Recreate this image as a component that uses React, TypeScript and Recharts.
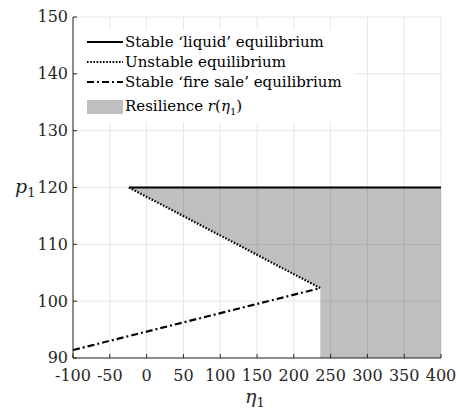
import { ComposedChart, Line, Area, XAxis, YAxis, CartesianGrid, Label } from 'recharts'

// axis ticks
const etaTicks = [-100, -50, 0, 50, 100, 150, 200, 250, 300, 350, 400]
const pTicks = [90, 100, 110, 120, 130, 140, 150]

// equilibria
const liquidEta = [-24, 400]
const liquidP = [120, 120]
const unstableEta = [-24, 236]
const unstableP = [120, 102.3]
const fireSaleEta = [-100, 236]
const fireSaleP = [91.4, 102.3]

// resilience region: band between the lower boundary and the liquid price
const resilienceEta = [-24, 236, 236, 400]
const resilienceLow = [120, 102.3, 90, 90]
const resilienceHigh = [120, 120, 120, 120]

const legendLabels = [
  'Stable \u2018liquid\u2019 equilibrium',
  'Unstable equilibrium',
  'Stable \u2018fire sale\u2019 equilibrium',
  'Resilience ',
]

const toPoints = (xs: number[], ys: number[]) => xs.map((eta, i) => ({ eta, p: ys[i] }))

const liquidData = toPoints(liquidEta, liquidP)
const unstableData = toPoints(unstableEta, unstableP)
const fireSaleData = toPoints(fireSaleEta, fireSaleP)
const resilienceData = resilienceEta.map((eta, i) => ({
  eta,
  range: [resilienceLow[i], resilienceHigh[i]],
}))

const FONT = 'DejaVu Serif'
const INK = '#262626'
const DOTTED = '1.6 1.6'
const DASHDOT = '7 3 2 3'

const YTick = (props: any) => {
  const { x, y, payload } = props
  return (
    <g>
      <line x1={x + 5} x2={x + 9} y1={y} y2={y} stroke={INK} />
      <text x={x} y={y} dy="0.34em" textAnchor="end" fontFamily={FONT} fontSize={16} fill={INK}>
        {payload.value}
      </text>
    </g>
  )
}

const XTick = (props: any) => {
  const { x, y, payload } = props
  return (
    <g>
      <line x1={x} x2={x} y1={y - 11} y2={y - 15} stroke={INK} />
      <text x={x} y={y} dy="0.72em" textAnchor="middle" fontFamily={FONT} fontSize={16} fill={INK}>
        {payload.value}
      </text>
    </g>
  )
}

const SampleLine = ({ dash }: { dash?: string }) => (
  <svg width={36} height={8} style={{ display: 'block' }}>
    <line x1={0} x2={36} y1={4} y2={4} stroke="#000" strokeWidth={2.2} strokeDasharray={dash} />
  </svg>
)

function ChartLegend() {
  const rowTops = [2, 22, 42, 67]
  const samples = [
    <SampleLine key="a" />,
    <SampleLine key="b" dash={DOTTED} />,
    <SampleLine key="c" dash={DASHDOT} />,
    <div key="d" style={{ width: 36, height: 14, background: '#bfbfbf' }} />,
  ]
  return (
    <div
      style={{
        position: 'absolute',
        left: 80,
        top: 30,
        width: 274,
        height: 92,
        background: '#fff',
        fontFamily: FONT,
        fontSize: 15,
        color: '#000',
      }}
    >
      {legendLabels.map((label, i) => (
        <div
          key={label}
          style={{
            position: 'absolute',
            left: 7,
            top: rowTops[i],
            height: 20,
            display: 'flex',
            alignItems: 'center',
            whiteSpace: 'nowrap',
          }}
        >
          {samples[i]}
          <span style={{ marginLeft: 2 }}>
            {label}
            {i === 3 && (
              <>
                <i>r</i>(<i>{'\u03b7'}</i>
                <sub style={{ fontSize: 10 }}>1</sub>)
              </>
            )}
          </span>
        </div>
      ))}
    </div>
  )
}

export default function App() {
  return (
    <div style={{ position: 'absolute', left: 0, top: 0, width: 457, height: 416, background: '#fff' }}>
      <ComposedChart width={457} height={416} margin={{ top: 17, right: 16, bottom: 0, left: 0 }}>
        <XAxis
          type="number"
          dataKey="eta"
          domain={[-100, 400]}
          ticks={etaTicks}
          allowDataOverflow
          height={58}
          tickSize={0}
          tickMargin={11}
          tickLine={false}
          axisLine={{ stroke: INK }}
          tick={<XTick />}
        >
          <Label
            content={(p: any) => {
              const vb = p.viewBox
              return (
                <text x={vb.x + vb.width / 2 - 12} y={vb.y + 45} fontFamily={FONT} fill={INK}>
                  <tspan fontStyle="italic" fontSize={19}>{'\u03b7'}</tspan>
                  <tspan fontSize={13} dy={4}>1</tspan>
                </text>
              )
            }}
          />
        </XAxis>
        <YAxis
          type="number"
          domain={[90, 150]}
          ticks={pTicks}
          allowDataOverflow
          width={73}
          tickSize={0}
          tickMargin={5}
          tickLine={false}
          axisLine={{ stroke: INK }}
          tick={<YTick />}
        >
          <Label
            content={() => (
              <text x={15} y={193} fontFamily={FONT} fill={INK}>
                <tspan fontStyle="italic" fontSize={19}>p</tspan>
                <tspan fontSize={13} dy={4}>1</tspan>
              </text>
            )}
          />
        </YAxis>
        <CartesianGrid stroke="#e6e6e6" />
        <Area
          data={resilienceData}
          dataKey="range"
          type="linear"
          fill="#000"
          fillOpacity={0.25}
          stroke="none"
          isAnimationActive={false}
        />
        <Line data={liquidData} dataKey="p" type="linear" stroke="#000" strokeWidth={2.2} dot={false} isAnimationActive={false} />
        <Line
          data={unstableData}
          dataKey="p"
          type="linear"
          stroke="#000"
          strokeWidth={2.2}
          strokeDasharray={DOTTED}
          dot={false}
          isAnimationActive={false}
        />
        <Line
          data={fireSaleData}
          dataKey="p"
          type="linear"
          stroke="#000"
          strokeWidth={2.2}
          strokeDasharray={DASHDOT}
          dot={false}
          isAnimationActive={false}
        />
      </ComposedChart>
      <ChartLegend />
    </div>
  )
}
